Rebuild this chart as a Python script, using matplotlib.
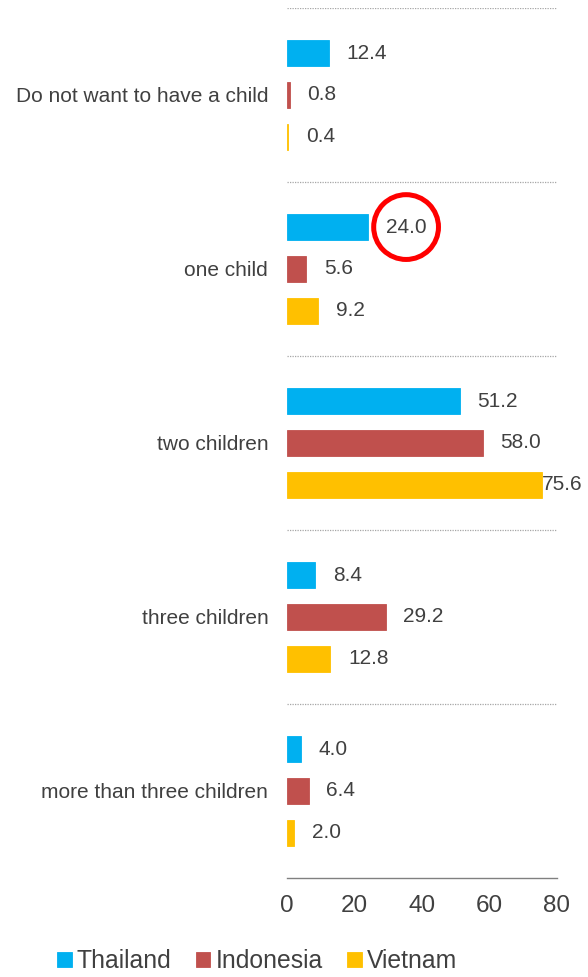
import numpy as np
import matplotlib.pyplot as plt

# --- Survey data: preferred number of children (%) ---
categories = ["Do not want to have a child", "one child", "two children",
              "three children", "more than three children"]
thailand = [12.4, 24.0, 51.2, 8.4, 4.0]
indonesia = [0.8, 5.6, 58.0, 29.2, 6.4]
vietnam = [0.4, 9.2, 75.6, 12.8, 2.0]

series = [("Thailand", thailand, "#00B0F0"),
          ("Indonesia", indonesia, "#C0504D"),
          ("Vietnam", vietnam, "#FFC000")]

TEXT = "#404040"
plt.rcParams["font.family"] = ["Liberation Sans", "DejaVu Sans"]

fig = plt.figure(figsize=(5.88, 9.77), dpi=100)
ax = fig.add_axes([287 / 588, 99 / 977, 270 / 588, 870 / 977])

centers = np.arange(len(categories)) + 0.5
offsets = [-0.241, 0.0, 0.241]
bar_h = 0.15

bars = []
for (name, vals, color), off in zip(series, offsets):
    b = ax.barh(centers + off, vals, height=bar_h, color=color,
                edgecolor=color, linewidth=0.6, label=name)
    bars.append(b)
    # value labels just past the end of each bar
    for y, v in zip(centers + off, vals):
        dx = 12.8 if v < 70 else 0
        kw = {}
        if name == "Thailand" and v == 24.0:
            kw["bbox"] = dict(boxstyle="circle,pad=0.58", fc="none",
                              ec="#FF0000", lw=3.6)
        ax.annotate(f"{v:.1f}", (v, y), xytext=(dx, 0),
                    textcoords="offset points", ha="left", va="center",
                    fontsize=15, color=TEXT, **kw)

ax.set_xlim(0, 80)
ax.set_ylim(len(categories), 0)

ax.set_yticks(centers)
ax.set_yticklabels(categories)
ax.set_xticks([0, 20, 40, 60, 80])
ax.tick_params(axis="y", length=0, pad=13.5, labelsize=15, labelcolor=TEXT)
ax.tick_params(axis="x", length=0, pad=12, labelsize=17.5, labelcolor=TEXT)

# dotted separators between category groups
ax.set_yticks(np.arange(len(categories)), minor=True)
ax.tick_params(axis="y", which="minor", length=0)
ax.grid(which="minor", axis="y", color="#A6A6A6", linestyle=(0, (1, 1)),
        linewidth=0.9)
ax.set_axisbelow(True)

for s in ["top", "right", "left"]:
    ax.spines[s].set_visible(False)
ax.spines["bottom"].set_color("#808080")
ax.spines["bottom"].set_linewidth(1.0)

fig.legend(handles=bars, loc="center", bbox_to_anchor=(257 / 588, 1 - 961 / 977),
           ncol=3, frameon=False, fontsize=17.8, labelcolor=TEXT,
           handlelength=0.58, handleheight=0.58, handletextpad=0.2,
           columnspacing=1.0, borderpad=0)

fig.savefig("out.png", dpi=100)
